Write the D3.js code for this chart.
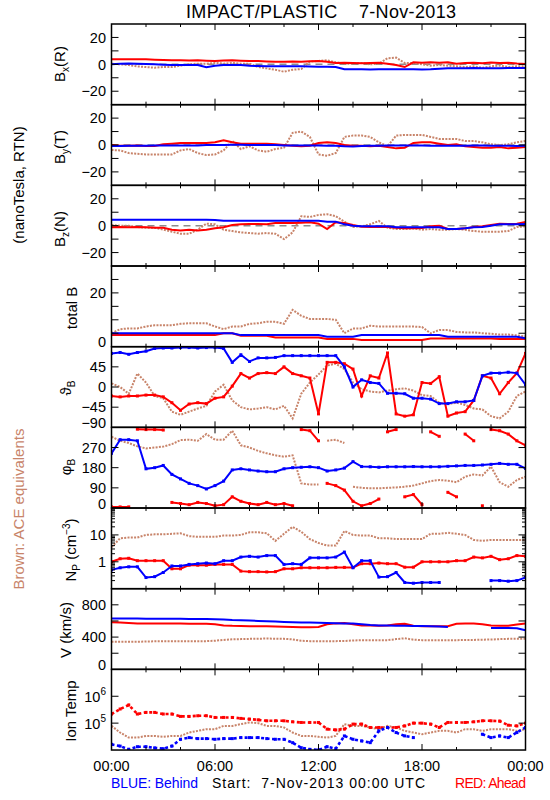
<!DOCTYPE html>
<html><head><meta charset="utf-8">
<script src="https://cdn.jsdelivr.net/npm/d3@7"></script>
<style>
body{margin:0;background:#fff}
text{font-family:"Liberation Sans",Arial,sans-serif;white-space:pre}
</style>
</head><body>
<svg id="chart" width="550" height="800" xmlns="http://www.w3.org/2000/svg"></svg>
<script>
// ---------------- data (30-minute samples, 00:00 .. 24:00) ----------------
const hours = d3.range(0, 24.001, 0.5);
const xTickHours = [0,2,4,6,8,10,12,14,16,18,20,22,24];
const xLabelHours = [0,6,12,18,24];
const xLabels = ["00:00","06:00","12:00","18:00","00:00"];

const bxBrown = [0.5,0,-0.5,-1.5,-2,-2.5,-2,-2,-1,0, 0.5,0.5,1,0.5,1,0.5,0.5,-2,-3,-4, -5.5,-4,-3.5,2,2.5,3,1.5,0.5,0.5,1, 0,0.5,4.5,5,1,1,0,-1,-0.5,-1, -1.5,-2,-1.5,-2.5,-1.5,-1,-2,-1.5,-1.5];
const bxRed = [3.7,3.7,3.7,3.7,3.7,3.5,3.2,3,3,2.8, 3,2.7,2.5,2.8,3,2.7,2.5,2.4,2.2,2, 2,2.2,2,2.3,2.5,2,1,1.2,1,0.8, 1,1.2,0.5,-0.5,-2,1.5,1.2,1.5,1.2,1.6, 0.5,1,1.2,0.8,1.4,1,1.2,0.6,0.2];
const bxBlue = [0,0.5,0.7,0.5,0.2,0,-0.3,-0.5,-0.5,-0.5, -0.5,-2.2,-1,-0.5,-0.5,-0.5,-1,-1.3,-1.5,-1.5, -1.5,-1.5,-1.5,-1.6,-1.8,-1.8,-2,-3.7,-3.7,-3.7, -3.8,-3.7,-3.7,-3.7,-3.7,-3.7,-3.8,-3.7,-3.2,-3, -3,-3,-2.8,-3,-3,-3,-2.8,-2.8,-2.8];

const byBrown = [-3.7,-4,-6,-6.5,-7,-7,-7,-7,-4,-3, -6,-7.5,-7,-4,3,-3,-1,-4,-5,-3, -2,9,10,6,-7,-8,-6,6,7,7, 6,2,-1,7,7.5,7.5,7.5,6,4.5,4.5, 4.5,3,3,2,0.5,0,0.5,2,3];
const byRed = [0,-0.5,-0.5,-0.3,-0.8,-0.8,0.5,1,1.5,1.5, 1.5,1.5,2,3.5,2,1,1,1,1,0.5, 0,-0.5,-1,-0.5,1.5,2,1.5,0,-0.5,-0.5, -1,-0.5,-1.5,-2.5,-2,1.5,2,2,1,0, 0.5,-1,-1.5,-2,-2,-1.5,-2.5,-2,-1.5];
const byBlue = [-0.8,-0.8,-0.5,-0.5,-0.5,-0.3,-0.3,-0.3,-0.3,-0.3, -0.3,0,0,0,0.2,0.2,0,0,0,0, -0.3,-0.3,-0.3,-0.3,-0.3,-0.5,-0.5,-1,-1.2,-0.8, -0.5,-0.5,-0.3,-0.3,-0.3,-0.3,-0.3,-0.5,-0.5,-0.5, -0.5,-0.5,-0.3,-0.3,-0.5,-0.5,-0.5,-0.8,-0.5];

const bzBrown = [0.5,0,0,-1,-1.5,-1.5,-3,-4.5,-6,-6, -3,1.5,1,-3,-4,-5,-5.5,-6,-5.5,-6, -10,-5,7,6.5,8,8.5,7,3,-1,-0.5, 1,3.5,-1.5,-2.5,-2.5,-2,-3,-2.5,-3,-3, -2.5,-3,-4,-4.5,-4.5,-4.5,-4,-1,-0.5];
const bzRed = [-1.2,-1,-1.2,-1,-1.2,-1.5,-1.5,-3,-3.5,-3, -3.5,-3,-2,-1.2,0.5,1,1.2,1.2,1,2, 2,2,2.2,2.5,1.5,-2.5,2.5,2,0.5,-0.8, -1,-1,-1,-1.5,-2,-2,-1.8,-0.5,0, -2.5,-2.5,-2,-1,-0.5,0.5,1.5,1.2,1.5,2.8];
const bzBlue = [4.4,4.4,4.4,4.4,4.4,4.4,4.4,4.4,4.4,4.4, 4.4,4.4,4.2,3.7,3.7,3.7,3.7,3.7,3.7,3.7, 3.7,3.7,3.7,3.7,3.7,3,3,1,0, -0.5,-0.5,-0.5,-0.5,-1.2,-1.2,-1.2,-1.2,-1.2,-1.2, -2.5,-2.5,-2,-1.2,-1,0,1,1,1,1.2];

const btBrown = [5,6.5,6.8,6.8,7.5,8,8,8,8.5,8.7, 8.7,8.7,7.5,6.5,7.5,7.5,8.5,8.7,9.3,9.3, 8.5,13.7,11.5,10.3,10.3,10.3,10,5,6.8,6.8, 7.8,7.5,7.5,7.5,7.5,7.5,7.3,5,6.2,6.2, 5.5,5.3,5.3,5,4.8,4.5,4.5,4.2,3.8];
const btRed = [4.3,4.3,4.3,4.3,4.3,4.3,4.3,4.3,4.3,4.3, 4.3,4.3,4.3,5,5,4.1,4.1,4.1,4.1,3.4, 3.4,3.4,3.4,3.4,3.4,2.9,2.9,2.9,2.9,2.5, 2.5,2.5,2.5,2.5,2.5,2.5,2.5,3,3,3, 3,3,3,3,3,2.9,2.9,2.9,2.9];
const btBlue = [5,5,5,5,5,5,5,5,5,5, 5,5,5,5,5,4.3,4.3,4.3,4.3,4.3, 4.3,4.3,4.3,4.3,4.3,3.7,3.7,3.7,3.7,4.3, 4.3,4.3,4.3,4.3,4.3,4.3,4.3,4.3,4.3,3.7, 3.7,3.7,3.7,3.7,3.7,3.7,3.7,3.7,3.1];

const thBrown = [8,0,-15,30,10,-20,-25,-55,-62,-55, -48,-42,-10,5,-30,-45,-50,-48,-45,-50, -42,-70,-15,10,28,48,52,40,10,-5, -10,-12,-8,-5,-3,-8,-18,-20,-35,-38, -35,-40,-48,-50,-65,-70,-55,-20,-10];
const thRed = [-20,-22,-20,-20,-18,-18,-22,-35,-52,-38, -35,-37,-25,-22,2,30,20,30,32,30, 45,30,25,20,-60,55,55,52,40,-20, 25,20,76,-60,-65,-62,10,8,23,-65, -58,-55,-30,25,20,-15,10,31,75];
const thBlue = [75,77,73,77,80,86,87,87,88,88, 87,88,88,86,55,72,57,65,65,66, 70,70,70,70,70,70,70,45,0,16, 10,8,-14,-14,-15,-25,-25,-27,-37,-37, -33,-33,-30,25,31,31,33,31,5];

const phBrown = [318,300,290,275,266,270,274,285,303,305, 300,330,305,305,345,280,270,255,244,235, 229,235,110,105,105,300,305,290,95,90, 88,88,90,92,95,100,110,120,125,122, 115,140,150,145,185,115,95,125,140];
const phRed = [5,5,5,352,350,350,348,25,20,15, 25,20,10,15,50,30,20,15,25,15, 20,10,350,345,300,110,100,80,30,10, 20,40,340,350,50,60,15,340,320,70, 50,330,300,10,350,345,330,300,280];
const phBlue = [244,305,305,300,175,180,190,150,130,110, 100,85,100,120,170,175,170,165,162,162, 175,180,182,184,180,165,170,178,207,185, 184,182,184,184,184,185,184,184,184,186, 188,190,190,192,195,199,195,195,177];

const npBrown = [3.5,7.5,8,8,10,10.5,10.5,11,11.5,9, 8.5,8.5,8.5,9.5,9.5,10,12.5,12.5,11.5,6, 11,20,13,7,5,4,4,14,10,9.5, 9.5,7.5,7.5,7,7,7,7,11,11,12, 11,10,6.5,6,6.5,6.5,6.5,6.5,6.5];
const npRed = [1,1.3,1.35,1.1,1.1,1.1,1.1,0.55,0.55,0.75, 0.75,0.75,0.8,0.8,0.8,0.45,0.43,0.43,0.42,0.43, 0.55,0.55,0.6,0.6,0.6,0.6,0.62,0.62,0.62,0.85, 0.85,0.9,0.85,0.85,0.63,0.63,1,1,1,1, 1.1,1.1,1.5,1.4,1.6,1.2,1.3,1.7,1.6];
const npBlue = [0.5,0.6,0.65,0.65,0.26,0.28,0.4,0.7,0.7,0.8, 0.85,0.9,0.85,1.1,1.1,1.5,1.6,1.5,1.7,1.7, 0.8,0.85,0.8,1.4,1.4,1.4,1.5,2.3,0.6,1.1, 1.1,0.27,0.28,0.4,0.17,0.16,0.17,0.17,0.17,null, null,null,null,null,0.2,0.2,0.19,0.2,0.26];

const vBrown = [342,342,342,342,345,348,350,350,350,350, 350,350,355,365,372,375,378,380,382,380, 378,372,355,350,350,350,350,352,358,362, 362,362,362,375,385,368,362,360,360,362, 362,365,365,368,370,375,378,378,380];
const vRed = [585,580,575,570,568,568,568,568,568,565, 565,565,560,545,540,538,535,535,535,532, 528,525,523,523,525,560,570,575,560,545, 543,540,543,560,565,540,535,535,535,535, 565,568,568,560,545,540,540,555,568];
const vBlue = [630,630,630,630,628,628,628,626,626,625, 624,623,620,617,612,610,605,600,596,592, 588,585,582,580,578,574,572,570,568,560, 550,545,543,540,540,538,536,535,530,525, null,null,null,null,514,514,514,510,485];

const tBrown = [79000,44700,29000,29000,33500,33500,31000,33500,33500,44700, 51600,59600,59600,79000,79000,91700,106000,100000,79000,79000, 68800,44700,33500,33500,31000,29000,33500,91700,79000,79000, 68800,59600,79000,68800,51600,44700,38700,44700,51600,51600, 44700,59600,59600,51600,59600,59600,59600,51600,59600];
const tRed = [218000,335000,473000,218000,251000,251000,218000,218000,178000,178000, 188000,188000,163000,163000,163000,150000,141000,133000,122000,122000, 122000,112000,106000,106000,106000,60000,56000,60000,92000,92000, 69000,69000,69000,69000,79000,100000,100000,92000,69000,106000, 106000,106000,112000,122000,122000,119000,84000,79000,100000];
const tBlue = [16300,14000,10600,13300,13300,12000,11200,14000,25100,29000, 26600,26600,25100,26600,26600,29000,29000,29000,26600,25100, 25100,18800,12200,10600,10000,13300,11200,33500,25100,21800, 18800,51600,68800,44700,33500,29000,null,null,null,null, null,null,null,38700,29000,33500,29000,44700,68800];

// tick values / labels
const bTicks = [-20,-10,0,10,20], bLabels = [20,0,-20];
const btTicks = [5,10,15,20,25], btLabels = [20,0];
const thTicks = [-45,0,45], thLabels = [45,0,-45,-90];
const phTicks = [90,180,270], phLabels = [270,180,90,0];
const npMajor = [1,10], npLabels = [10,1];
const vTicks = [200,400,600,800], vLabels = [800,400,0];
const tMajor = [1e5,1e6], tLabels = [6,5];

// ---------------- drawing ----------------
const BROWN = "#c8846a", RED = "#ff0000", BLUE = "#0000ff";
const svg = d3.select("#chart");
const X0 = 111.5, X1 = 525.5, TOP = 24, PH = 80.67;
const x = d3.scaleLinear().domain([0,24]).range([X0, X1]);
const minus = v => String(v).replace("-", "\u2212");

const panels = [
  {title:"bx", type:"lin", dom:[-30,30], ticks:bTicks, labels:bLabels, zero:true, s:[bxBrown,bxRed,bxBlue]},
  {title:"by", type:"lin", dom:[-30,30], ticks:bTicks, labels:bLabels, zero:true, s:[byBrown,byRed,byBlue]},
  {title:"bz", type:"lin", dom:[-30,30], ticks:bTicks, labels:bLabels, zero:true, s:[bzBrown,bzRed,bzBlue]},
  {title:"bt", type:"lin", dom:[0,30], ticks:btTicks, labels:btLabels, s:[btBrown,btRed,btBlue]},
  {title:"th", type:"lin", dom:[-90,90], ticks:thTicks, labels:thLabels, marks:true, s:[thBrown,thRed,thBlue]},
  {title:"ph", type:"lin", dom:[0,360], ticks:phTicks, labels:phLabels, wrap:true, marks:true, s:[phBrown,phRed,phBlue]},
  {title:"np", type:"log", dom:[0.1,100], ticks:npMajor, labels:npLabels, marks:true, s:[npBrown,npRed,npBlue]},
  {title:"v", type:"lin", dom:[0,1000], ticks:vTicks, labels:vLabels, s:[vBrown,vRed,vBlue]},
  {title:"t", type:"log", dom:[1e4,1e7], ticks:tMajor, labels:tLabels, dashed:true, marks:true, s:[tBrown,tRed,tBlue]}
];

const defs = svg.append("defs");

panels.forEach((p, i) => {
  const y0 = TOP + i*PH, y1 = y0 + PH;
  const y = (p.type === "log" ? d3.scaleLog() : d3.scaleLinear()).domain(p.dom).range([y1, y0]);
  const g = svg.append("g");
  defs.append("clipPath").attr("id","clip"+i).append("rect")
    .attr("x",X0).attr("y",y0).attr("width",X1-X0).attr("height",PH);
  const plot = g.append("g").attr("clip-path","url(#clip"+i+")");

  if (p.zero) {
    plot.append("line").attr("x1",X0).attr("x2",X1).attr("y1",y(0)).attr("y2",y(0))
      .attr("stroke","#8c8c8c").attr("stroke-width",1.5).attr("stroke-dasharray","7,5");
  }

  const colors = [BROWN, RED, BLUE];
  p.s.forEach((vals, k) => {
    let pts = hours.map((h, j) => ({h, v: vals[j]}));
    const raw = pts.filter(d => d.v != null);
    if (p.wrap) {
      const out = [];
      pts.forEach((d, j) => {
        if (j > 0 && d.v != null && pts[j-1].v != null && Math.abs(d.v - pts[j-1].v) > 180) out.push({h:d.h, v:null});
        out.push(d);
      });
      pts = out;
    }
    const line = d3.line().defined(d => d.v != null).x(d => x(d.h)).y(d => y(d.v));
    const path = plot.append("path").datum(pts).attr("d", line).attr("fill","none")
      .attr("stroke", colors[k]);
    if (k === 0) path.attr("stroke-width",2).attr("stroke-dasharray","2,1.3");
    else if (p.dashed) path.attr("stroke-width",2.6).attr("stroke-dasharray","3,2.5");
    else path.attr("stroke-width",2);
    if (p.marks && k > 0) {
      plot.selectAll(null).data(raw).enter().append("rect")
        .attr("x", d => x(d.h) - 1.5).attr("y", d => y(d.v) - 1.5)
        .attr("width",3).attr("height",3).attr("fill",colors[k]);
    }
  });

  // frame
  g.append("rect").attr("x",X0).attr("y",y0).attr("width",X1-X0).attr("height",PH)
    .attr("fill","none").attr("stroke","#000").attr("stroke-width",1.5);

  // x ticks (top and bottom, inward)
  xTickHours.forEach(h => {
    const len = (h % 6 === 0) ? 6 : 3;
    g.append("line").attr("x1",x(h)).attr("x2",x(h)).attr("y1",y1).attr("y2",y1-len).attr("stroke","#000");
    g.append("line").attr("x1",x(h)).attr("x2",x(h)).attr("y1",y0).attr("y2",y0+len).attr("stroke","#000");
  });

  // y ticks
  const yt = (v, len) => {
    g.append("line").attr("x1",X0).attr("x2",X0+len).attr("y1",y(v)).attr("y2",y(v)).attr("stroke","#000");
    g.append("line").attr("x1",X1).attr("x2",X1-len).attr("y1",y(v)).attr("y2",y(v)).attr("stroke","#000");
  };
  p.ticks.forEach(v => yt(v, 7));
  if (p.title === "np") {
    [0.1,1,10].forEach(dec => d3.range(2,10).forEach(m => { if (dec*m < 100) yt(dec*m, 3.5); }));
  }

  // y labels
  p.labels.forEach(v => {
    if (p.title === "t") {
      const t = g.append("text").attr("x",106).attr("y",y(Math.pow(10,v))+6)
        .attr("text-anchor","end").attr("font-size",14.5);
      t.append("tspan").text("10");
      t.append("tspan").attr("dy",-7).attr("font-size",10).text(String(v));
      return;
    }
    let yy = y(v);
    if (Math.abs(yy - y1) < 1) yy -= 4.5;
    g.append("text").attr("x",106).attr("y",yy).attr("dy","0.36em")
      .attr("text-anchor","end").attr("font-size",14.5).text(minus(v));
  });
});

// axis titles (rotated)
function vtext(cx, cy, parts, color) {
  const t = svg.append("text").attr("transform",`translate(${cx},${cy}) rotate(-90)`)
    .attr("text-anchor","middle").attr("font-size",15).attr("fill",color||"#000");
  parts.forEach(pp => {
    const s = t.append("tspan").text(pp.t);
    if (pp.sub) s.attr("font-size",10).attr("dy",4);
    if (pp.sup) s.attr("font-size",10).attr("dy",-6);
    if (pp.back) s.attr("dy",pp.back);
  });
  return t;
}
vtext(65, 64, [{t:"B"},{t:"x",sub:1},{t:"(R)",back:-4}]);
vtext(65, 147, [{t:"B"},{t:"y",sub:1},{t:"(T)",back:-4}]);
vtext(65, 229, [{t:"B"},{t:"z",sub:1},{t:"(N)",back:-4}]);
vtext(77, 308, [{t:"total B"}]);
vtext(71, 388, [{t:"\u03D1"},{t:"B",sub:1}]);
vtext(71, 467, [{t:"\u03C6"},{t:"B",sub:1}]);
vtext(76, 550, [{t:"N"},{t:"P",sub:1},{t:" (cm",back:-4},{t:"\u22123",sup:1},{t:")",back:6}]);
vtext(71, 630, [{t:"V (km/s)"}]);
vtext(76, 711, [{t:"Ion Temp"}]);
vtext(24, 185, [{t:"(nanoTesla, RTN)"}]);
vtext(24, 509, [{t:"Brown: ACE equivalents"}], BROWN);

// title
svg.append("text").attr("x",321).attr("y",18).attr("text-anchor","middle")
  .attr("font-size",18).attr("textLength",270).attr("lengthAdjust","spacing")
  .text("IMPACT/PLASTIC    7-Nov-2013");

// x labels
xLabelHours.forEach((h, j) => {
  svg.append("text").attr("x",x(h)).attr("y",771).attr("text-anchor","middle")
    .attr("font-size",14.5).text(xLabels[j]);
});

// footer
svg.append("text").attr("x",111).attr("y",788).attr("font-size",14).attr("fill",BLUE)
  .attr("textLength",87).attr("lengthAdjust","spacing").text("BLUE: Behind");
svg.append("text").attr("x",212).attr("y",788).attr("font-size",14)
  .attr("textLength",213).attr("lengthAdjust","spacing").text("Start:  7-Nov-2013 00:00 UTC");
svg.append("text").attr("x",455).attr("y",788).attr("font-size",14).attr("fill",RED)
  .attr("textLength",71).attr("lengthAdjust","spacing").text("RED: Ahead");
</script>
</body></html>
